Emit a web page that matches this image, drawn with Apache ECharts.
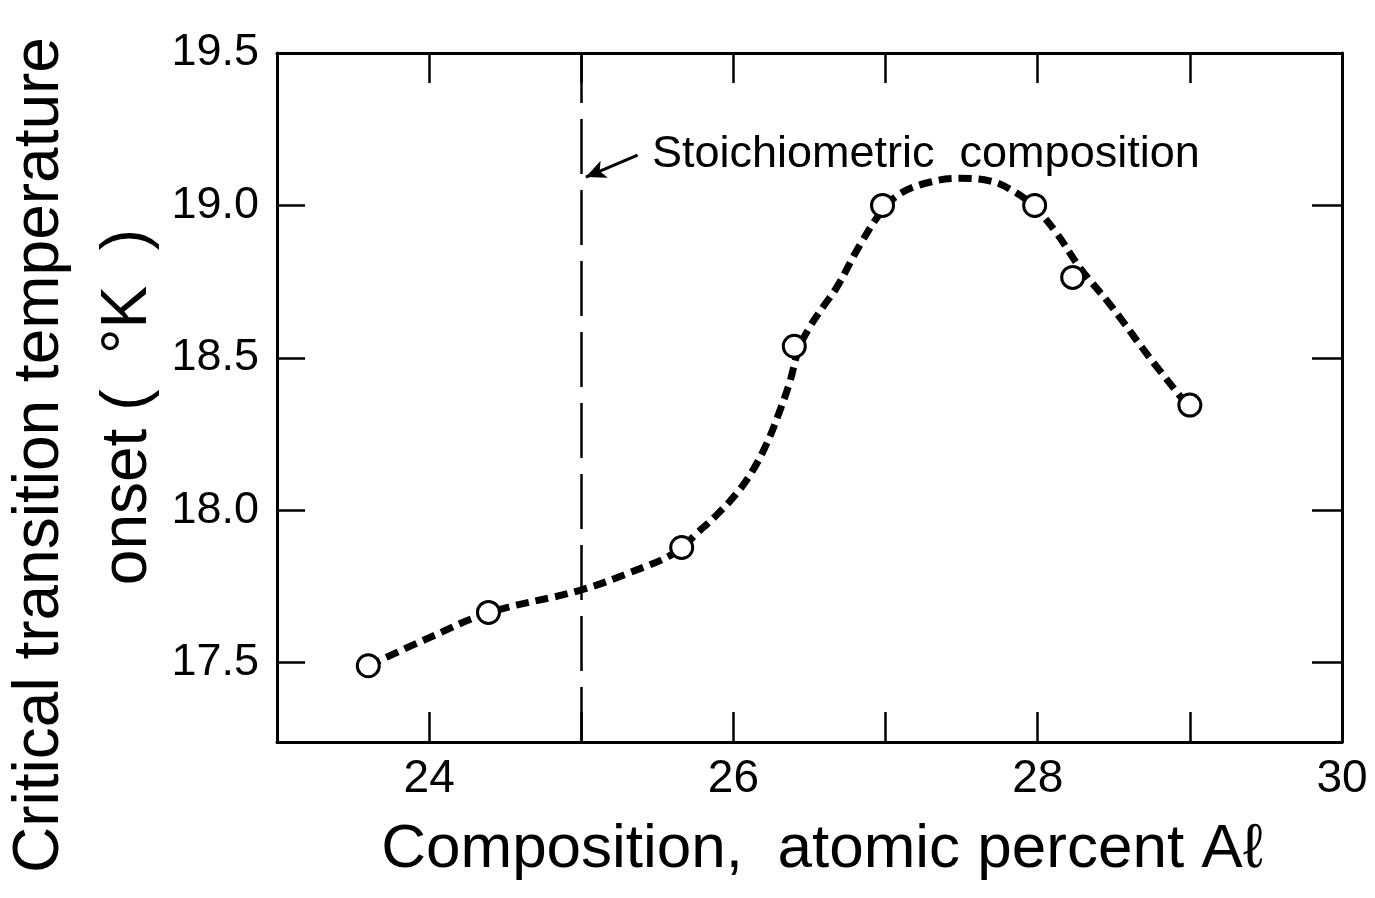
<!DOCTYPE html>
<html>
<head>
<meta charset="utf-8">
<script src="https://cdn.jsdelivr.net/npm/echarts@6/dist/echarts.min.js"></script>
<style>
  html, body { margin: 0; padding: 0; background: #fff; }
  #chart { width: 1375px; height: 898px; }
</style>
</head>
<body>
<div id="chart"></div>
<script>
// measured points (composition, onset temperature)
var compX = [23.6, 24.39, 25.66, 26.4, 26.98, 27.98, 28.23, 29.0];
var tempY = [17.49, 17.665, 17.878, 18.538, 19.0, 19.0, 18.764, 18.345];

// hand-drawn fit curve
var curveX = [23.6, 24.0, 24.39, 24.98, 25.32, 25.62, 25.76, 25.89, 26.02, 26.12, 26.22,
              26.3, 26.37, 26.43, 26.5, 26.59, 26.68, 26.83, 26.98, 27.1, 27.29, 27.49,
              27.69, 27.85, 27.98, 28.12, 28.28, 28.48, 28.74, 28.98];
var curveY = [17.49, 17.582, 17.664, 17.736, 17.796, 17.862, 17.925, 17.985, 18.055, 18.125, 18.22,
              18.32, 18.42, 18.53, 18.6, 18.668, 18.732, 18.869, 18.984, 19.04, 19.076, 19.089,
              19.08, 19.044, 18.994, 18.912, 18.794, 18.672, 18.498, 18.347];

var stoichX = 25;
var yTicks = [17.5, 18.0, 18.5, 19.0, 19.5];

var FONT = "'Liberation Sans', Arial, sans-serif";

function zip(a, b) {
  var out = [];
  for (var i = 0; i < a.length; i++) out.push([a[i], b[i]]);
  return out;
}

var chart = echarts.init(document.getElementById('chart'));

var axisLine = { show: true, lineStyle: { color: '#000', width: 3 } };
var tick = { show: true, inside: true, length: 30, lineStyle: { color: '#000', width: 2.5 } };

var option = {
  animation: false,
  backgroundColor: '#fff',
  grid: { left: 277, top: 53, right: 33, bottom: 156 },
  xAxis: [
    {
      type: 'value', position: 'bottom', min: 23, max: 30, interval: 1,
      axisLine: axisLine, axisTick: tick, splitLine: { show: false },
      axisLabel: {
        color: '#000', fontSize: 46, fontFamily: FONT, margin: 14,
        formatter: function (v) { return v % 2 === 0 ? String(v) : ''; }
      }
    },
    {
      type: 'value', position: 'top', min: 23, max: 30, interval: 1,
      axisLine: axisLine, axisTick: tick, splitLine: { show: false },
      axisLabel: { show: false }
    }
  ],
  yAxis: [
    {
      type: 'value', position: 'left', min: 17.24, max: 19.5,
      axisLine: axisLine, splitLine: { show: false },
      axisTick: { show: true, inside: true, length: 28, customValues: yTicks,
        lineStyle: { color: '#000', width: 2.5 } },
      axisLabel: {
        color: '#000', fontSize: 45, fontFamily: FONT, margin: 18,
        customValues: yTicks,
        formatter: function (v) { return v.toFixed(1); }
      }
    },
    {
      type: 'value', position: 'right', min: 17.24, max: 19.5,
      axisLine: axisLine, splitLine: { show: false },
      axisTick: { show: true, inside: true, length: 30, customValues: yTicks,
        lineStyle: { color: '#000', width: 2.5 } },
      axisLabel: { show: false }
    }
  ],
  series: [
    {
      name: 'fit',
      type: 'line',
      data: zip(curveX, curveY),
      smooth: 0.4,
      symbol: 'none',
      lineStyle: { color: '#000', width: 7, type: [13, 7] },
      z: 2,
      markLine: {
        silent: true,
        symbol: ['none', 'none'],
        label: { show: false },
        lineStyle: { color: '#000', width: 2.5, type: [55, 16] },
        data: [{ xAxis: stoichX }]
      }
    },
    {
      // arrow pointing at the stoichiometric line
      name: 'arrow',
      type: 'line',
      data: [],
      markLine: {
        silent: true,
        symbol: ['none', 'arrow'],
        symbolSize: [14, 20],
        label: { show: false },
        lineStyle: { color: '#000', width: 3, type: 'solid', curveness: 0.3 },
        data: [[{ coord: [25.37, 19.165] }, { coord: [25.03, 19.093] }]]
      }
    },
    {
      name: 'measured',
      type: 'scatter',
      data: zip(compX, tempY),
      symbol: 'circle',
      symbolSize: 22,
      itemStyle: { color: '#fff', borderColor: '#000', borderWidth: 3, opacity: 1 },
      z: 3
    }
  ],
  graphic: [
    {
      type: 'text', left: 652, top: 132,
      style: { text: 'Stoichiometric  composition', fill: '#000', fontSize: 45, fontFamily: FONT }
    },
    {
      type: 'text', x: 40, y: 455, rotation: Math.PI / 2,
      style: { text: 'Critical transition temperature', fill: '#000', fontSize: 64,
        fontFamily: FONT, align: 'center', verticalAlign: 'middle' }
    },
    {
      type: 'text', x: 128, y: 407, rotation: Math.PI / 2,
      style: { text: 'onset (  °K  )', fill: '#000', fontSize: 64,
        fontFamily: FONT, align: 'center', verticalAlign: 'middle' }
    },
    {
      type: 'text', x: 822, y: 850,
      style: { text: 'Composition,  atomic percent A\u2113', fill: '#000', fontSize: 62,
        fontFamily: FONT, align: 'center', verticalAlign: 'middle' }
    }
  ]
};

chart.setOption(option);
</script>
</body>
</html>
